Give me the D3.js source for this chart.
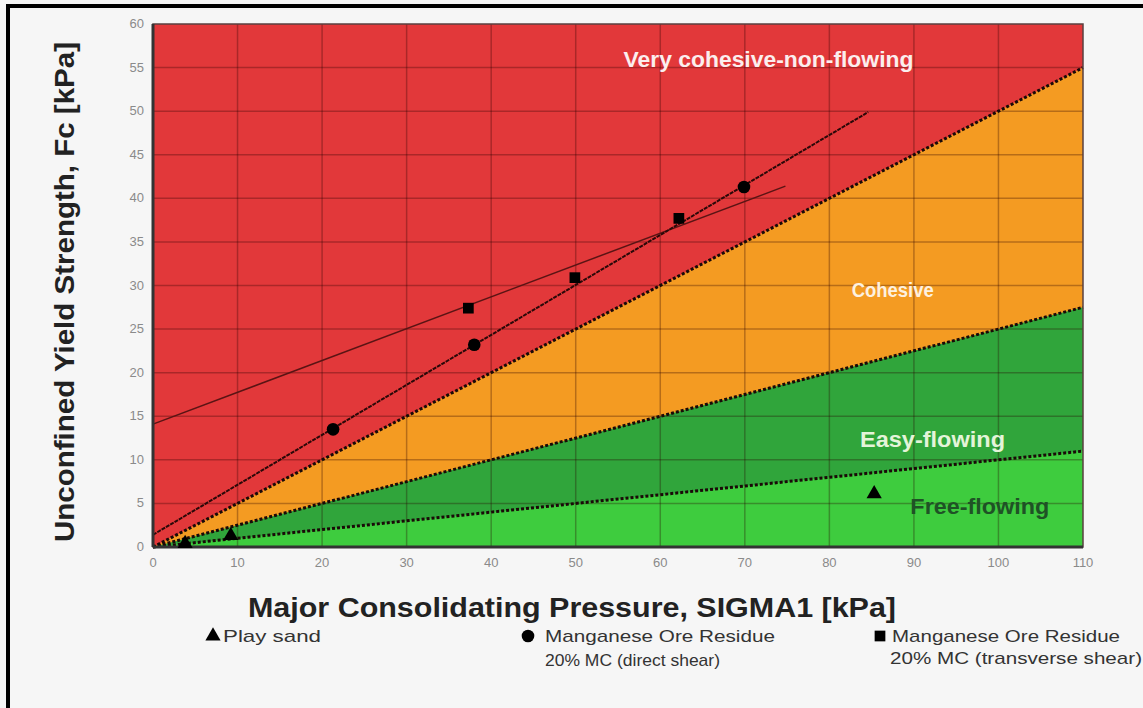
<!DOCTYPE html>
<html>
<head>
<meta charset="utf-8">
<script src="https://cdn.jsdelivr.net/npm/d3@7"></script>
<style>
  body { margin: 0; background: #f6f6f6; }
  svg { display: block; font-family: "Liberation Sans", Arial, sans-serif; }
</style>
</head>
<body>
<svg id="chart" width="1143" height="708"></svg>
<script>
// flow function boundaries: Fc = sigma1 / ffc
const ffcLimits = [2, 4, 10];
const zoneColors = ["#e2383a", "#f49b22", "#30a53b", "#3ecc3e"];
const xTicks = d3.range(0, 111, 10);
const yTicks = d3.range(0, 61, 5);

// measured points
const playSand = [[3.8, 0.4], [9.2, 1.3], [85.3, 6.1]];
const directShear = [[21.3, 13.5], [38, 23.2], [69.9, 41.3]];
const transverseShear = [[37.3, 27.4], [49.9, 30.9], [62.2, 37.7]];

// fitted lines [x0, y0, x1, y1]
const directFit = [0, 1.4, 84.6, 49.9];
const transverseFit = [0, 14.1, 74.8, 41.4];

const zoneLabels = [
  { text: "Very cohesive-non-flowing", x: 72.8, y: 55.7, size: 22, len: 290, fill: "#fbeeee" },
  { text: "Cohesive", x: 87.5, y: 29.3, size: 20, len: 82, fill: "#fdf1e0" },
  { text: "Easy-flowing", x: 92.2, y: 12.1, size: 22, len: 145, fill: "#e4f4d9" },
  { text: "Free-flowing", x: 97.8, y: 4.5, size: 22, len: 139, fill: "#1f5226" }
];

const svg = d3.select("#chart");
const x = d3.scaleLinear().domain([0, 110]).range([153, 1083]);
const y = d3.scaleLinear().domain([0, 60]).range([547, 24]);

// frame (top + left only)
svg.append("rect").attr("x", 6).attr("y", 4).attr("width", 1137).attr("height", 4).attr("fill", "#000");
svg.append("rect").attr("x", 6).attr("y", 4).attr("width", 4).attr("height", 704).attr("fill", "#000");

// zones
const plot = svg.append("g");
plot.append("rect")
  .attr("x", x(0)).attr("y", y(60))
  .attr("width", x(110) - x(0)).attr("height", y(0) - y(60))
  .attr("fill", zoneColors[0]);
ffcLimits.forEach((f, i) => {
  plot.append("path")
    .attr("d", d3.line()([[x(0), y(0)], [x(110), y(110 / f)], [x(110), y(0)]]) + "Z")
    .attr("fill", zoneColors[i + 1]);
});

// grid
const grid = svg.append("g").attr("stroke", "rgba(40,0,0,0.3)").attr("stroke-width", 1.5);
xTicks.slice(1, -1).forEach(t => {
  grid.append("line").attr("x1", x(t)).attr("x2", x(t)).attr("y1", y(60)).attr("y2", y(0));
});
yTicks.slice(1, -1).forEach(t => {
  grid.append("line").attr("x1", x(0)).attr("x2", x(110)).attr("y1", y(t)).attr("y2", y(t));
});

// boundary lines
ffcLimits.forEach(f => {
  svg.append("line")
    .attr("x1", x(0)).attr("y1", y(0)).attr("x2", x(110)).attr("y2", y(110 / f))
    .attr("stroke", "#1a0a08").attr("stroke-width", 3).attr("stroke-dasharray", "3,2");
});

// fit lines
svg.append("line")
  .attr("x1", x(transverseFit[0])).attr("y1", y(transverseFit[1]))
  .attr("x2", x(transverseFit[2])).attr("y2", y(transverseFit[3]))
  .attr("stroke", "#5a1414").attr("stroke-width", 1.5);
svg.append("line")
  .attr("x1", x(directFit[0])).attr("y1", y(directFit[1]))
  .attr("x2", x(directFit[2])).attr("y2", y(directFit[3]))
  .attr("stroke", "#2a0808").attr("stroke-width", 2).attr("stroke-dasharray", "4,1");

// plot border
svg.append("rect")
  .attr("x", x(0)).attr("y", y(60))
  .attr("width", x(110) - x(0)).attr("height", y(0) - y(60))
  .attr("fill", "none").attr("stroke", "#5a4040").attr("stroke-width", 1.5);
svg.append("line").attr("x1", x(0)).attr("x2", x(110)).attr("y1", y(0)).attr("y2", y(0))
  .attr("stroke", "#333").attr("stroke-width", 3);
svg.append("line").attr("x1", x(0)).attr("x2", x(0)).attr("y1", y(60)).attr("y2", y(0))
  .attr("stroke", "#333").attr("stroke-width", 3);

// markers
const tri = d3.symbol().type(d3.symbolTriangle).size(100);
const circ = d3.symbol().type(d3.symbolCircle).size(125);
const sq = d3.symbol().type(d3.symbolSquare).size(115);
svg.append("g").selectAll("path").data(playSand).join("path")
  .attr("transform", d => `translate(${x(d[0])},${y(d[1])})`).attr("d", tri).attr("fill", "#000");
svg.append("g").selectAll("path").data(directShear).join("path")
  .attr("transform", d => `translate(${x(d[0])},${y(d[1])})`).attr("d", circ).attr("fill", "#000");
svg.append("g").selectAll("path").data(transverseShear).join("path")
  .attr("transform", d => `translate(${x(d[0])},${y(d[1])})`).attr("d", sq).attr("fill", "#000");

// zone labels
svg.append("g").selectAll("text").data(zoneLabels).join("text")
  .attr("x", d => x(d.x) - d.len / 2).attr("y", d => y(d.y))
  .attr("dominant-baseline", "middle")
  .attr("font-size", d => d.size).attr("font-weight", "bold").attr("fill", d => d.fill)
  .attr("textLength", d => d.len).attr("lengthAdjust", "spacingAndGlyphs")
  .text(d => d.text);

// tick labels
svg.append("g").selectAll("text").data(xTicks).join("text")
  .attr("x", d => x(d)).attr("y", 567)
  .attr("text-anchor", "middle").attr("font-size", 13).attr("fill", "#8a8a8a")
  .text(d => d);
svg.append("g").selectAll("text").data(yTicks).join("text")
  .attr("x", 144).attr("y", d => y(d) + 4)
  .attr("text-anchor", "end").attr("font-size", 13).attr("fill", "#8a8a8a")
  .text(d => d);

// axis titles
svg.append("text").attr("x", 248).attr("y", 617)
  .attr("font-size", 27).attr("font-weight", "bold").attr("fill", "#222")
  .attr("textLength", 648).attr("lengthAdjust", "spacingAndGlyphs")
  .text("Major Consolidating Pressure, SIGMA1 [kPa]");
svg.append("text").attr("transform", "translate(74,542) rotate(-90)")
  .attr("font-size", 27).attr("font-weight", "bold").attr("fill", "#222")
  .attr("textLength", 500).attr("lengthAdjust", "spacingAndGlyphs")
  .text("Unconfined Yield Strength, Fc [kPa]");

// legend
const legendRows = [
  { t: "Play sand", x: 223, y: 642, len: 98 },
  { t: "Manganese Ore Residue", x: 545, y: 642, len: 230 },
  { t: "20% MC (direct shear)", x: 545, y: 666, len: 175 },
  { t: "Manganese Ore Residue", x: 892, y: 642, len: 228 },
  { t: "20% MC (transverse shear)", x: 890, y: 664, len: 252 }
];
const legend = svg.append("g").attr("font-size", 17).attr("fill", "#333");
legend.append("path").attr("transform", "translate(213,636)").attr("d", tri).attr("fill", "#000");
legend.append("path").attr("transform", "translate(528,636)").attr("d", circ).attr("fill", "#000");
legend.append("path").attr("transform", "translate(880,636)").attr("d", sq).attr("fill", "#000");
legend.selectAll("text").data(legendRows).join("text")
  .attr("x", d => d.x).attr("y", d => d.y)
  .attr("textLength", d => d.len).attr("lengthAdjust", "spacingAndGlyphs")
  .text(d => d.t);
</script>
</body>
</html>
